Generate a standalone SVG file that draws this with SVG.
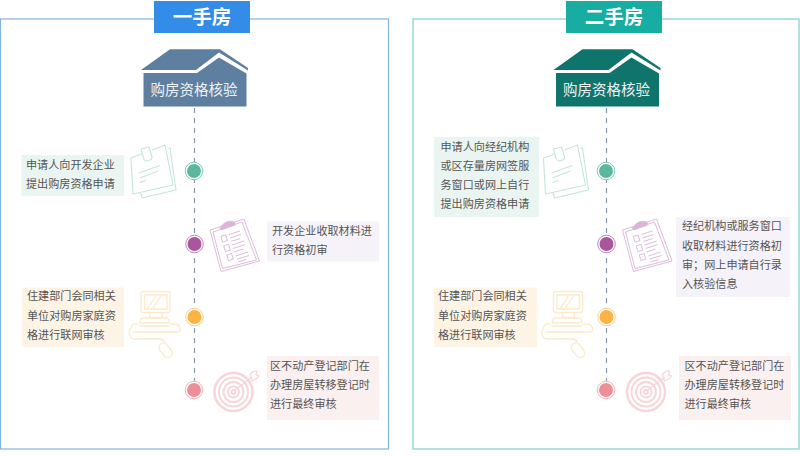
<svg xmlns="http://www.w3.org/2000/svg" width="800" height="456" viewBox="0 0 800 456">
<style>
text{font-family:"Noto Sans CJK SC","Noto Sans",sans-serif}
.title{font-size:19.500px;font-weight:700;fill:#fff;text-anchor:middle}
.hl{font-size:14.500px;fill:#eef3f6;text-anchor:middle}
.t{font-size:11.100px;fill:#555}
.dash{stroke:#8497ae;stroke-width:1.200;stroke-dasharray:5 5;fill:none}
.ring{fill:#fff;stroke-width:1}
.paper{fill:none;stroke:#c3e5db;stroke-width:1.100;stroke-linejoin:round}
.clip{fill:none;stroke:#dcbcdc;stroke-width:1;stroke-linejoin:round}
.pc{fill:none;stroke:#fde9c9;stroke-width:1.300;stroke-linejoin:round}
.tg{fill:none;stroke:#f7d4d7;stroke-width:1.800}
</style>
<defs>
<g id="house">
<path d="M141 70 170 49.300H220L248 68V70.500L219 52.500 196 70Z"/>
<path d="M143.500 73H197L219 57.500 246.500 73.500V106.500H143.500Z"/>
</g>
<g id="paperIcon" class="paper">
<path d="M168.500 148.500 170 148 176 190 142 198 140.500 192.500"/>
<path d="M142 154 131 158 133 194 173 185 165 145 152 150"/>
<path d="M141 149 149 147 152 157Q152 160 149 160.500L147 161Q144 161 143.500 158Z"/>
<path d="M139 173 160 165.500M140 178 158 171M140 182.500 146 180.500"/>
</g>
<g id="clipIcon" class="clip">
<path d="M210 230 244 219 259.500 261 221 271.500Z"/>
<path d="M213 232 242 222 256.500 260 222.500 268.500Z"/>
<path d="M220 228Q226 219 234 222Q236 224 235 225L221 230Z" fill="#dcb4da"/>
<rect x="221.500" y="235.500" width="5" height="6" transform="rotate(-17 224 238)"/>
<rect x="224.500" y="245" width="5" height="6" transform="rotate(-17 227 248)"/>
<rect x="227.500" y="254" width="5" height="6" transform="rotate(-17 230 257)"/>
<path d="M229 234.500 240 231M230 238 241 234.500M231 241.500 240 238.500M232 245 244 241M233 248.500 245 244.500M234 252 243 249M236 256 248 252M237 259 249 255.500M238 262 246 259.500"/>
</g>
<g id="pcIcon" class="pc">
<rect x="141" y="291.500" width="29" height="21" rx="2"/>
<rect x="144.500" y="295" width="22.500" height="14"/>
<path d="M148 308 156 296M153 308 161 296"/>
<path d="M150 313V318H162V313"/>
<path d="M141 323Q138 318 145 318H166Q170 318 169 323"/>
<path d="M139 323H169M139 326H170"/>
<path d="M133 332H176Q181 332 180 328Q179 324 174 324H170M138 324H133Q128 332 130 336Q131 339 135 339H160Q163 339 165 342"/>
<rect x="161" y="342" width="9" height="16" rx="4.500" transform="rotate(-38 166 350)"/>
</g>
<g id="targetIcon" class="tg">
<circle cx="233.500" cy="392" r="19" stroke-width="2.400"/>
<circle cx="233.500" cy="392" r="14.500"/>
<circle cx="233.500" cy="392" r="10"/>
<circle cx="233.500" cy="392" r="5.500"/>
<circle cx="233.500" cy="392" r="2"/>
<path d="M234 391 252 377" stroke-width="1.200"/>
<path d="M250 374 254 371 257 371 256 375 259 376 256 379 252 381Z" stroke-width="1.200"/>
</g>
</defs>

<g id="panel-new">
<rect x="0.500" y="19" width="388" height="430" fill="#fff" stroke="#80b4e4" stroke-width="1.200"/>
<rect x="154" y="1" width="96" height="32" fill="#338ce8"/>
<text class="title" x="202" y="24">一手房</text>
</g>
<g id="panel-used">
<rect x="413" y="19" width="386" height="430" fill="#fff" stroke="#7cd0ca" stroke-width="1.200"/>
<rect x="566" y="1" width="96" height="32" fill="#17ada3"/>
<text class="title" x="614" y="24">二手房</text>
</g>

<g id="connectors">
<path class="dash" d="M194.500 108V390"/>
<path class="dash" d="M606.500 108V390"/>
</g>

<g id="n-house-new"><use href="#house" fill="#5f7fa0"/><text class="hl" x="194" y="94.500">购房资格核验</text></g>
<g id="n-house-used"><use href="#house" x="412.500" fill="#0f746c"/><text class="hl" x="606.500" y="94.500">购房资格核验</text></g>

<g id="n-new-1">
<rect x="21.500" y="155" width="102.500" height="41" fill="#eaf5f2"/>
<text class="t" x="26" y="168.500">申请人向开发企业</text>
<text class="t" x="26" y="187.500">提出购房资格申请</text>
<use href="#paperIcon"/>
<circle class="ring" cx="194" cy="171" r="8.800" stroke="#7fcbb5"/><circle cx="194" cy="171" r="7" fill="#5bb89e"/>
</g>
<g id="n-new-2">
<rect x="267" y="221.500" width="112" height="40" fill="#f6f2f9"/>
<text class="t" x="272" y="234.500">开发企业收取材料进</text>
<text class="t" x="272" y="254">行资格初审</text>
<use href="#clipIcon"/>
<circle class="ring" cx="194.500" cy="244" r="8.800" stroke="#c186bd"/><circle cx="194.500" cy="244" r="7" fill="#a9569f"/>
</g>
<g id="n-new-3">
<rect x="22" y="287.500" width="102" height="59.500" fill="#fdf4e6"/>
<text class="t" x="27" y="300">住建部门会同相关</text>
<text class="t" x="27" y="319.500">单位对购房家庭资</text>
<text class="t" x="27" y="339">格进行联网审核</text>
<use href="#pcIcon"/>
<circle class="ring" cx="194.500" cy="317" r="8.800" stroke="#fbcf88"/><circle cx="194.500" cy="317" r="7" fill="#fbb444"/>
</g>
<g id="n-new-4">
<rect x="267" y="356" width="112" height="64" fill="#fbf0f0"/>
<text class="t" x="270" y="370">区不动产登记部门在</text>
<text class="t" x="270" y="389">办理房屋转移登记时</text>
<text class="t" x="270" y="408">进行最终审核</text>
<use href="#targetIcon"/>
<circle class="ring" cx="194" cy="390" r="8.800" stroke="#f3b4b9"/><circle cx="194" cy="390" r="7" fill="#ee8f97"/>
</g>

<g id="n-used-1">
<rect x="434" y="137" width="105" height="80" fill="#eaf5f2"/>
<text class="t" x="440.500" y="150.500">申请人向经纪机构</text>
<text class="t" x="440.500" y="170">或区存量房网签服</text>
<text class="t" x="440.500" y="189">务窗口或网上自行</text>
<text class="t" x="440.500" y="208">提出购房资格申请</text>
<use href="#paperIcon" x="412.500"/>
<circle class="ring" cx="606" cy="171" r="8.800" stroke="#7fcbb5"/><circle cx="606" cy="171" r="7" fill="#5bb89e"/>
</g>
<g id="n-used-2">
<rect x="676" y="217" width="114" height="80" fill="#f6f2f9"/>
<text class="t" x="682" y="230">经纪机构或服务窗口</text>
<text class="t" x="682" y="250">收取材料进行资格初</text>
<text class="t" x="682" y="269">审；网上申请自行录</text>
<text class="t" x="682" y="288">入核验信息</text>
<use href="#clipIcon" x="412.500"/>
<circle class="ring" cx="606.500" cy="244" r="8.800" stroke="#c186bd"/><circle cx="606.500" cy="244" r="7" fill="#a9569f"/>
</g>
<g id="n-used-3">
<rect x="434" y="287.500" width="103" height="59.500" fill="#fdf4e6"/>
<text class="t" x="438" y="300">住建部门会同相关</text>
<text class="t" x="438" y="319.500">单位对购房家庭资</text>
<text class="t" x="438" y="339">格进行联网审核</text>
<use href="#pcIcon" x="412.500"/>
<circle class="ring" cx="606.500" cy="317" r="8.800" stroke="#fbcf88"/><circle cx="606.500" cy="317" r="7" fill="#fbb444"/>
</g>
<g id="n-used-4">
<rect x="679" y="356" width="112" height="64" fill="#fbf0f0"/>
<text class="t" x="684.500" y="370">区不动产登记部门在</text>
<text class="t" x="684.500" y="389">办理房屋转移登记时</text>
<text class="t" x="684.500" y="408">进行最终审核</text>
<use href="#targetIcon" x="412.500"/>
<circle class="ring" cx="606" cy="390" r="8.800" stroke="#f3b4b9"/><circle cx="606" cy="390" r="7" fill="#ee8f97"/>
</g>
</svg>
